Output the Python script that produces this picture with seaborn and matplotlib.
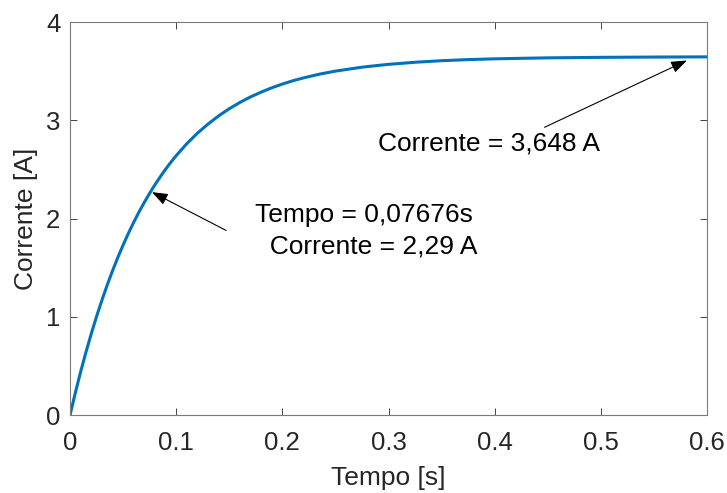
import matplotlib
matplotlib.use("Agg")
import matplotlib.pyplot as plt
import seaborn as sns
import pandas as pd

# Data
tempo = [0.0, 0.005, 0.01, 0.015, 0.02, 0.025, 0.03, 0.035, 0.04, 0.045, 0.05,
         0.055, 0.06, 0.065, 0.07, 0.075, 0.08, 0.085, 0.09, 0.095, 0.10,
         0.11, 0.12, 0.13, 0.14, 0.15, 0.16, 0.17, 0.18, 0.19, 0.20, 0.21,
         0.22, 0.235, 0.25, 0.275, 0.30, 0.325, 0.35, 0.375, 0.40, 0.45,
         0.50, 0.55, 0.60]
corrente = [0.0, 0.227, 0.441, 0.640, 0.828, 1.004, 1.168, 1.323, 1.468, 1.604, 1.731,
            1.851, 1.963, 2.068, 2.166, 2.258, 2.345, 2.426, 2.503, 2.574, 2.641,
            2.763, 2.870, 2.963, 3.046, 3.119, 3.183, 3.239, 3.288, 3.332, 3.370, 3.404,
            3.433, 3.471, 3.502, 3.542, 3.571, 3.592, 3.608, 3.619, 3.627, 3.637,
            3.642, 3.645, 3.647]
xticks = [0, 0.1, 0.2, 0.3, 0.4, 0.5, 0.6]
xticklabels = ["0", "0.1", "0.2", "0.3", "0.4", "0.5", "0.6"]
yticks = [0, 1, 2, 3, 4]
ann1_text = "Tempo = 0,07676s\n  Corrente = 2,29 A"
ann1_xy = (0.0772, 2.27)
ann1_tail = (0.147, 1.88)
ann2_text = "Corrente = 3,648 A"
ann2_xy = (0.581, 3.61)
ann2_tail = (0.447, 2.93)

df = pd.DataFrame({"Tempo": tempo, "Corrente": corrente})

sns.set_theme(style="ticks")
plt.rcParams["font.family"] = ["Liberation Sans", "DejaVu Sans"]
txt = "#262626"

fig = plt.figure(figsize=(7.27, 4.93), dpi=100)
ax = fig.add_axes([0.0963, 0.158, 0.9725 - 0.0963, 0.955 - 0.158])

sns.lineplot(data=df, x="Tempo", y="Corrente", ax=ax, color="#0072BD", linewidth=2.2)

ax.set_xlim(0, 0.6)
ax.set_ylim(0, 4)
ax.set_xticks(xticks)
ax.set_xticklabels(xticklabels)
ax.set_yticks(yticks)
ax.tick_params(direction="in", length=5, width=0.6, colors=txt, labelsize=18.5,
               top=True, right=True)
ax.tick_params(axis="x", pad=11.5)
ax.tick_params(axis="y", pad=7)
for s in ax.spines.values():
    s.set_color("#7a7a7a")
    s.set_linewidth(0.8)
    s.set_visible(True)

ax.set_xlabel("Tempo [s]", fontsize=19, color=txt, labelpad=8)
ax.set_ylabel("Corrente [A]", fontsize=19, color=txt, labelpad=6)

arrow = dict(arrowstyle="-|>,head_length=0.8,head_width=0.3", color="black", lw=0.8,
             shrinkA=0, shrinkB=0)
ax.annotate("", xy=ann1_xy, xytext=ann1_tail, arrowprops=arrow)
ax.annotate("", xy=ann2_xy, xytext=ann2_tail, arrowprops=arrow)
ax.text(0.1743, 1.873, ann1_text, fontsize=19, color="black", va="center", ha="left",
        linespacing=1.4)
ax.text(0.290, 2.768, ann2_text, fontsize=19, color="black", va="center", ha="left")

fig.savefig("out.png", dpi=100)
